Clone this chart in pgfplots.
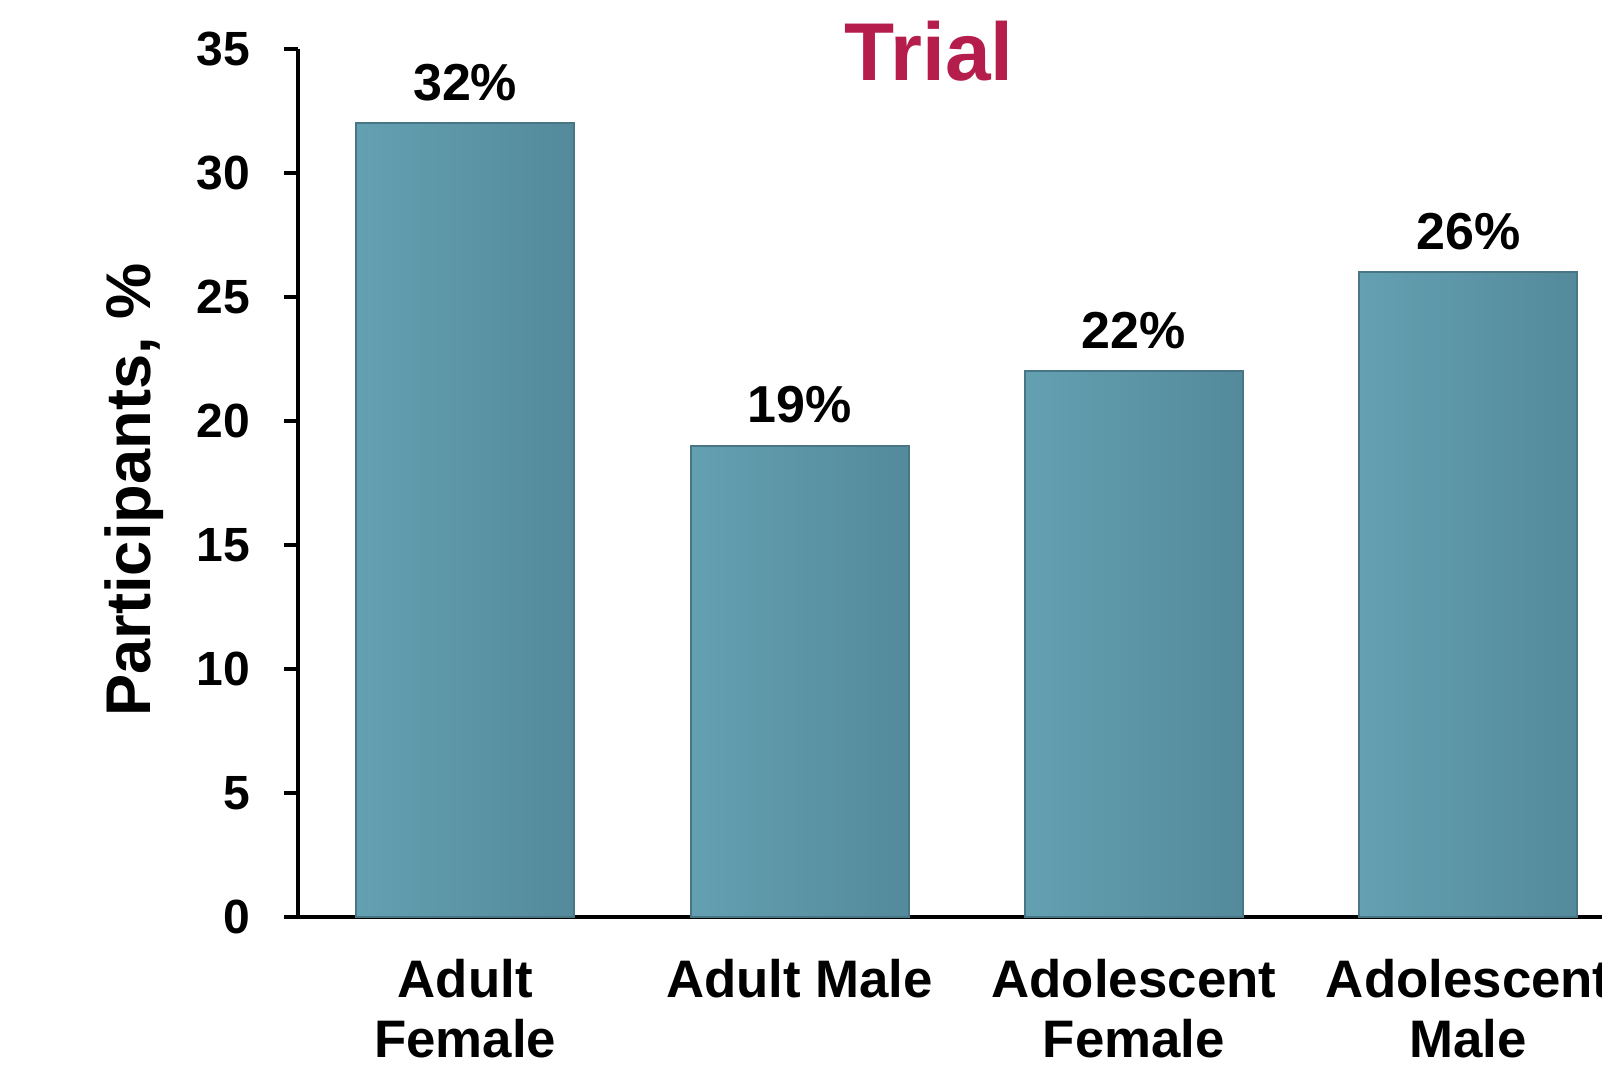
\documentclass[border=0pt]{standalone}
\usepackage{pgfplots}
\pgfplotsset{compat=1.18}
\usepackage{fontspec}
\setmainfont{Liberation Sans}
\definecolor{trialred}{RGB}{181,30,76}
\definecolor{barmid}{RGB}{93,152,170}
\definecolor{barleft}{RGB}{99,160,178}
\definecolor{barright}{RGB}{84,138,155}
\definecolor{baredge}{RGB}{72,118,133}
\begin{document}
\begin{tikzpicture}
\begin{axis}[
  scale only axis,
  width=326pt, height=217pt,
  xmin=-0.5, xmax=3.4,
  ymin=0, ymax=35,
  axis lines=left,
  axis line style={-, line width=0.9pt, black},
  tick align=outside,
  major tick length=3.5pt,
  ytick={0,5,...,35},
  ytick style={line width=0.9pt, black},
  xtick={0,1,2,3},
  xtick style={draw=none},
  xticklabels={{Adult\\Female},{Adult Male},{Adolescent\\Female},{Adolescent\\Male}},
  xticklabel style={align=center, font=\fontsize{13.2}{15}\selectfont\bfseries, yshift=-3.4pt},
  yticklabel style={font=\fontsize{12}{14}\selectfont\bfseries, xshift=-5pt},
  /pgf/number format/assume math mode=true,
  title={Trial},
  every axis title/.style={at={(rel axis cs:0.484,1)}, anchor=base, yshift=-7.75pt,
    font=\fontsize{20.5}{24}\selectfont\bfseries, text=trialred},
  bar width=0.652,
  clip=false,
  nodes near coords={\pgfmathprintnumber{\pgfplotspointmeta}\%},
  nodes near coords style={font=\fontsize{13}{15}\selectfont\bfseries, anchor=south, yshift=2pt},
  barstyle/.style={ybar, bar shift=0pt, draw=baredge, line width=0.5pt,
    left color=barleft, middle color=barmid, right color=barright},
]
\addplot[barstyle] coordinates {(0,32)};
\addplot[barstyle] coordinates {(1,19)};
\addplot[barstyle] coordinates {(2,22)};
\addplot[barstyle] coordinates {(3,26)};
\end{axis}
\node[rotate=90, font=\fontsize{15.8}{18}\selectfont\bfseries, anchor=center]
  at ([xshift=-41pt,yshift=-1.75pt]current axis.west) {Participants, \%};
\pgfresetboundingbox
\useasboundingbox ([xshift=-74.5pt,yshift=-37pt]current axis.south west) rectangle ++(400.5pt,266.25pt);
\end{tikzpicture}
\end{document}
